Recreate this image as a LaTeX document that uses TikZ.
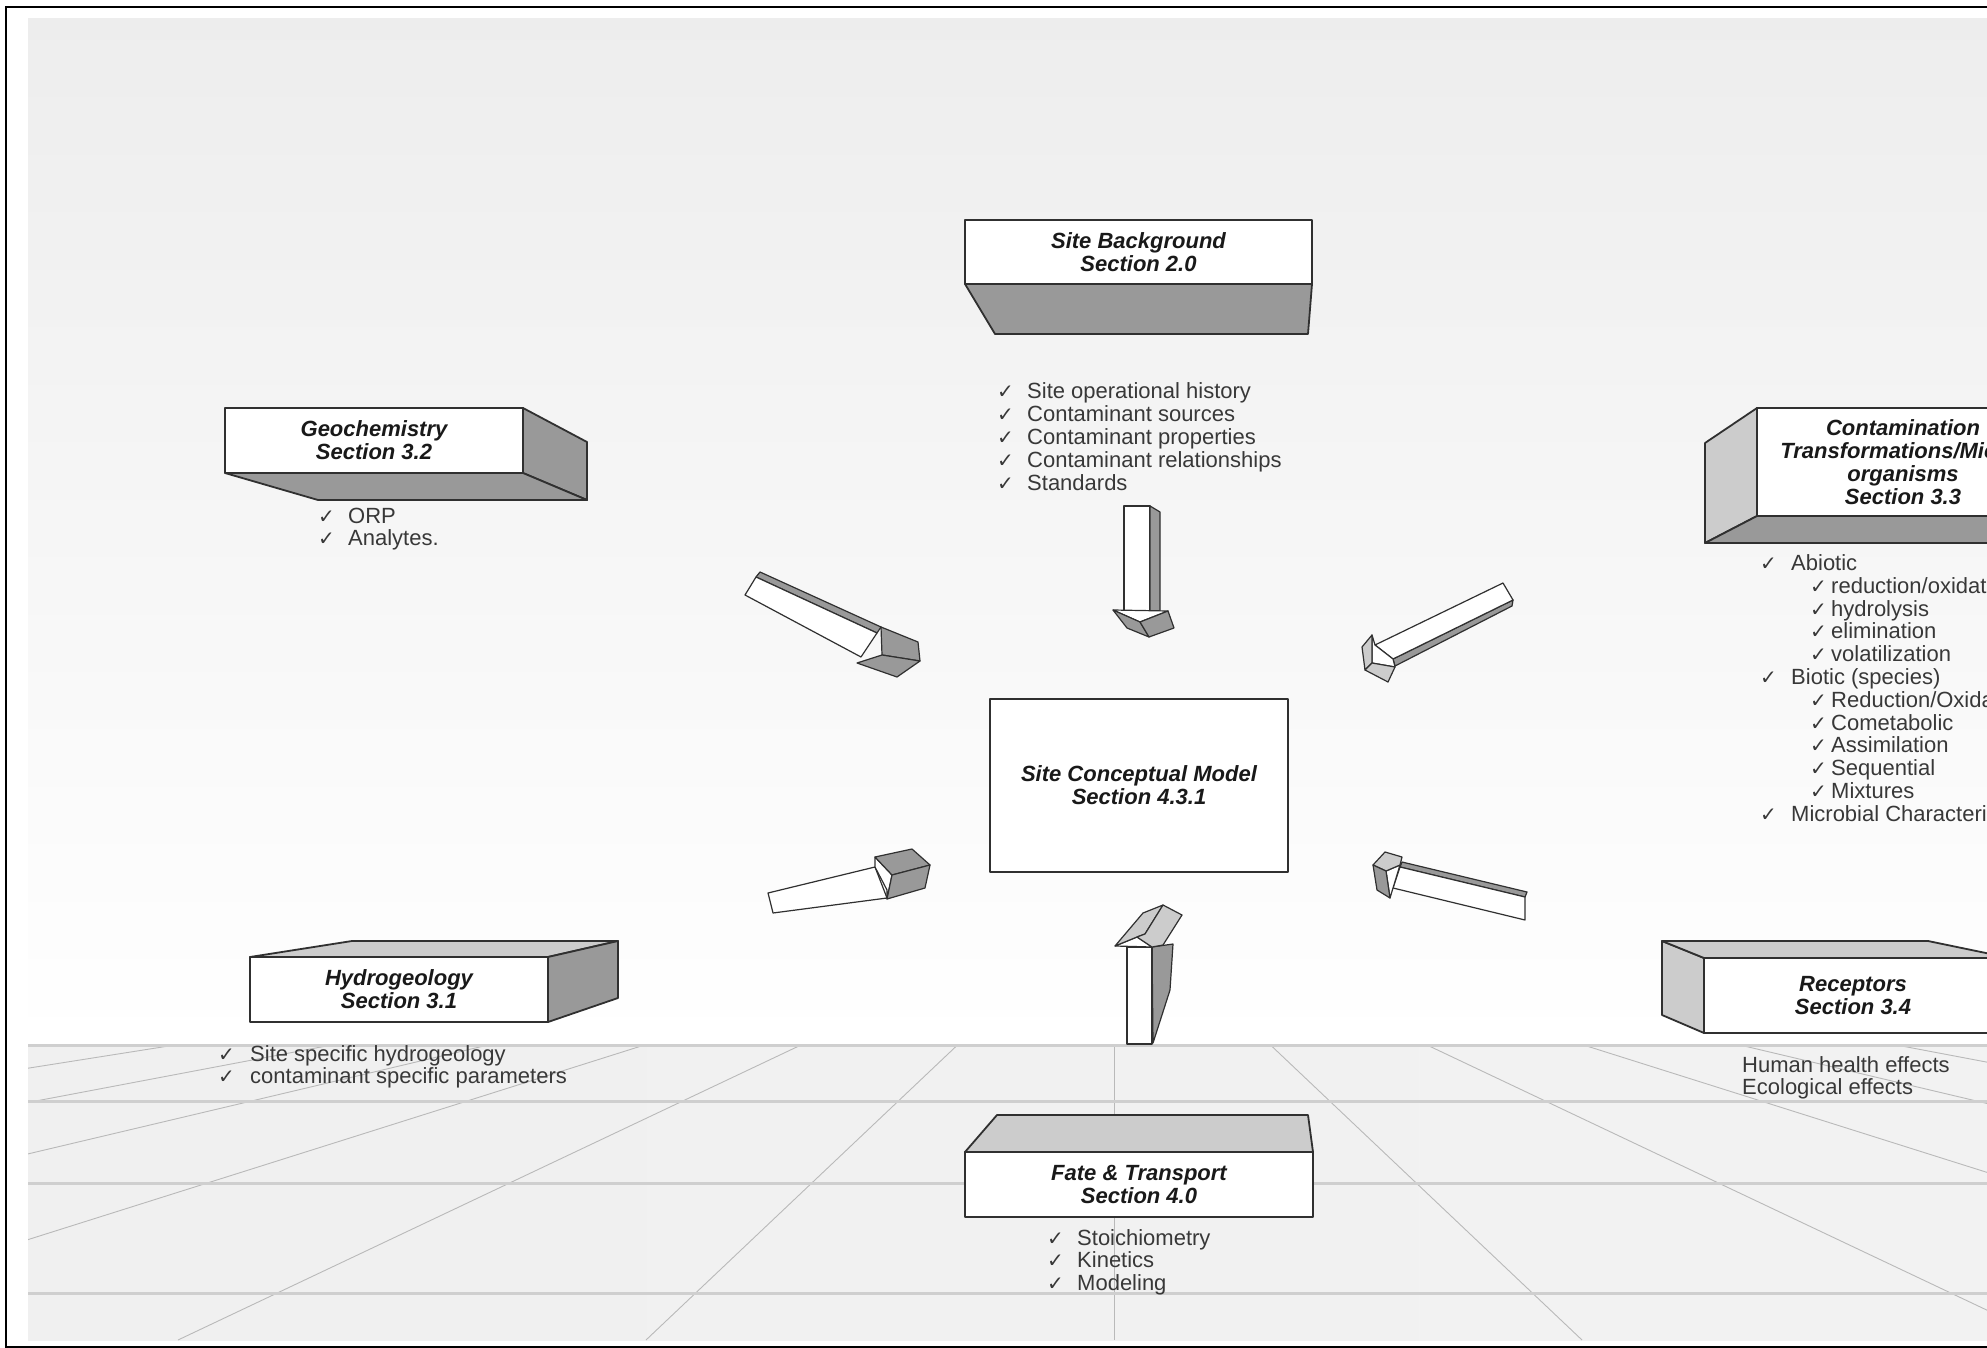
\documentclass[tikz,border=0pt]{standalone}
\usepackage{fontspec}
\setmainfont{Liberation Sans}
\newfontfamily\symf{DejaVu Sans}
\definecolor{sidedark}{HTML}{999999}
\definecolor{sidelight}{HTML}{CCCCCC}
\definecolor{edgec}{HTML}{303030}
\newcommand\chk{{\symf\fontsize{20}{20}\selectfont\char"2713}}
\newcommand\li[1]{\makebox[30pt][l]{\chk}#1}
\newcommand\lia[1]{\makebox[31pt][l]{\chk}#1}
\newcommand\lib[1]{\hspace*{50pt}\makebox[21pt][l]{\chk}#1}
\tikzset{
  face/.style={draw=edgec, line width=1.8pt, line join=round},
  frontbox/.style={face, fill=white, inner sep=0pt, font=\fontsize{22}{22.8}\selectfont\bfseries\itshape, align=center, text=black!90},
  darkface/.style={face, fill=sidedark},
  lightface/.style={face, fill=sidelight},
  listn/.style={anchor=base west, inner sep=0pt, font=\fontsize{22}{22.8}\selectfont, text=black!78},
  floorline/.style={draw=gray!55, line width=0.9pt},
  hline/.style={draw=gray!38, line width=3pt},
  afront/.style={draw=edgec, line width=1.2pt, fill=white, line join=round},
  adark/.style={draw=edgec, line width=1.2pt, fill=sidedark, line join=round},
  alight/.style={draw=edgec, line width=1.2pt, fill=sidelight, line join=round},
}
\begin{document}
\begin{tikzpicture}[x=1pt,y=-1pt]
\useasboundingbox (0,0) rectangle (1987,1348);
\clip (0,0) rectangle (1987,1348);
\fill[white] (0,0) rectangle (1987,1348);
\draw[line width=2pt] (1995,7) -- (6,7) -- (6,1347) -- (1995,1347);
% background panel
\shade[top color=gray!14, bottom color=white] (28,19) rectangle (1995,1045);
\shade[left color=gray!12, middle color=white, right color=gray!10] (28,1045) rectangle (1995,1340);
\begin{scope}
\clip (28,1045) rectangle (1995,1340);
\foreach \k in {-7,...,6} \draw[floorline] ({1114+\k*156.5},1045) -- ({1114+\k*468},1340);
\end{scope}
\foreach \yy in {1045,1101,1183,1293} \draw[hline] (28,\yy) -- (1995,\yy);

% ---------- Site Background ----------
\draw[darkface] (965,284) -- (1312,284) -- (1308,334) -- (995,334) -- cycle;
\node[frontbox, minimum width=347pt, minimum height=64pt] (sb) at (1138.5,252) {Site Background\\Section 2.0};
\node[listn] (sbl) at (997,399) {\begin{tabular}[t]{@{}l@{}}\li{Site operational history}\\\li{Contaminant sources}\\\li{Contaminant properties}\\\li{Contaminant relationships}\\\li{Standards}\end{tabular}};

% ---------- Geochemistry ----------
\draw[darkface] (523,408) -- (587,442) -- (587,500) -- (523,473) -- cycle;
\draw[darkface] (225,473) -- (523,473) -- (587,500) -- (318,500) -- cycle;
\node[frontbox, minimum width=298pt, minimum height=65pt] (geo) at (374,440.5) {Geochemistry\\Section 3.2};
\node[listn] (geol) at (318,523) {\begin{tabular}[t]{@{}l@{}}\li{ORP}\\\li{Analytes.}\end{tabular}};

% ---------- Contamination ----------
\draw[lightface] (1757,408) -- (1705,443) -- (1705,543) -- (1757,516) -- cycle;
\draw[darkface] (1705,543) -- (1757,516) -- (2049,516) -- (2000,543) -- cycle;
\node[frontbox, minimum width=292pt, minimum height=108pt] (ct) at (1903,462) {Contamination\\Transformations/Micro-\\organisms\\Section 3.3};
\node[listn] (ctl) at (1760,570.5) {\begin{tabular}[t]{@{}l@{}}\lia{Abiotic}\\\lib{reduction/oxidation}\\\lib{hydrolysis}\\\lib{elimination}\\\lib{volatilization}\\\lia{Biotic (species)}\\\lib{Reduction/Oxidation}\\\lib{Cometabolic}\\\lib{Assimilation}\\\lib{Sequential}\\\lib{Mixtures}\\\lia{Microbial Characterization}\end{tabular}};

% ---------- Site Conceptual Model ----------
\node[frontbox, minimum width=298pt, minimum height=173pt] (scm) at (1139,785.5) {Site Conceptual Model\\Section 4.3.1};

% ---------- Hydrogeology ----------
\draw[lightface] (250,957) -- (352,941) -- (618,941) -- (548,957) -- cycle;
\draw[darkface] (548,957) -- (618,941) -- (618,998) -- (548,1022) -- cycle;
\node[frontbox, minimum width=298pt, minimum height=65pt] (hyd) at (399,989.5) {Hydrogeology\\Section 3.1};
\node[listn] (hydl) at (218,1061) {\begin{tabular}[t]{@{}l@{}}\makebox[32pt][l]{\chk}Site specific hydrogeology\\\makebox[32pt][l]{\chk}contaminant specific parameters\end{tabular}};

% ---------- Receptors ----------
\draw[lightface] (1662,941) -- (1704,958) -- (1704,1033) -- (1662,1015) -- cycle;
\draw[lightface] (1662,941) -- (1928,941) -- (2010,958) -- (1704,958) -- cycle;
\node[frontbox, minimum width=298pt, minimum height=75pt] (rec) at (1853,995.5) {Receptors\\Section 3.4};
\node[listn] (recl) at (1742,1072) {\begin{tabular}[t]{@{}l@{}}Human health effects\\Ecological effects\end{tabular}};

% ---------- Fate & Transport ----------
\draw[lightface] (965,1152) -- (997,1115) -- (1308,1115) -- (1313,1152) -- cycle;
\node[frontbox, minimum width=348pt, minimum height=65pt] (ft) at (1139,1184.5) {Fate \& Transport\\Section 4.0};
\node[listn] (ftl) at (1047,1245) {\begin{tabular}[t]{@{}l@{}}\li{Stoichiometry}\\\li{Kinetics}\\\li{Modeling}\end{tabular}};

% ---------- 3D arrows ----------
% top (down)
\draw[afront] (1124,506) -- (1150,506) -- (1150,612) -- (1124,612) -- cycle;
\draw[adark] (1150,506) -- (1160,512) -- (1160,612) -- (1150,612) -- cycle;
\draw[afront] (1113,610) -- (1168,611) -- (1140,622) -- cycle;
\draw[adark] (1113,610) -- (1140,622) -- (1149,637) -- (1127,628) -- cycle;
\draw[adark] (1140,622) -- (1168,611) -- (1174,628) -- (1149,637) -- cycle;
% upper-left
\draw[adark] (756,577) -- (760,572) -- (881,627) -- (877,633) -- cycle;
\draw[afront] (756,577) -- (877,633) -- (861,657) -- (745,595) -- cycle;
\draw[adark] (881,627) -- (918,642) -- (920,661) -- (882,655) -- cycle;
\draw[adark] (857,663) -- (882,655) -- (920,661) -- (897,677) -- cycle;
% lower-left
\draw[afront] (768,893) -- (875,867) -- (887,898) -- (773,913) -- cycle;
\draw[afront] (875,857) -- (892,875) -- (887,899) -- (887,890) -- (875,867) -- cycle;
\draw[adark] (875,857) -- (912,849) -- (930,865) -- (892,875) -- cycle;
\draw[adark] (892,875) -- (930,865) -- (925,888) -- (887,899) -- cycle;
% upper-right
\draw[adark] (1513,600) -- (1512,606) -- (1395,666) -- (1393,659) -- cycle;
\draw[afront] (1503,583) -- (1513,600) -- (1393,659) -- (1375,645) -- cycle;
\draw[afront] (1372,635) -- (1375,645) -- (1393,659) -- (1395,667) -- (1372,663) -- cycle;
\draw[alight] (1362,647) -- (1372,635) -- (1372,663) -- (1365,670) -- cycle;
\draw[alight] (1372,663) -- (1395,667) -- (1388,682) -- (1365,670) -- cycle;
% lower-right
\draw[adark] (1402,862) -- (1527,892) -- (1525,897) -- (1400,867) -- cycle;
\draw[afront] (1400,867) -- (1525,897) -- (1525,920) -- (1393,888) -- cycle;
\draw[afront] (1386,871) -- (1400,865) -- (1393,888) -- (1390,898) -- cycle;
\draw[alight] (1373,865) -- (1385,852) -- (1402,857) -- (1400,865) -- (1386,871) -- cycle;
\draw[adark] (1373,865) -- (1386,871) -- (1390,898) -- (1377,890) -- cycle;
% bottom (up)
\draw[adark] (1152,947) -- (1173,944) -- (1170,990) -- (1153,1043) -- cycle;
\draw[afront] (1127,947) -- (1152,947) -- (1152,1044) -- (1127,1044) -- cycle;
\draw[afront] (1115,946) -- (1137,937) -- (1152,947) -- cycle;
\draw[alight] (1115,946) -- (1143,913) -- (1163,905) -- (1145,934) -- (1137,937) -- cycle;
\draw[alight] (1163,905) -- (1182,915) -- (1163,945) -- (1152,947) -- (1137,937) -- (1145,934) -- cycle;
\end{tikzpicture}
\end{document}
